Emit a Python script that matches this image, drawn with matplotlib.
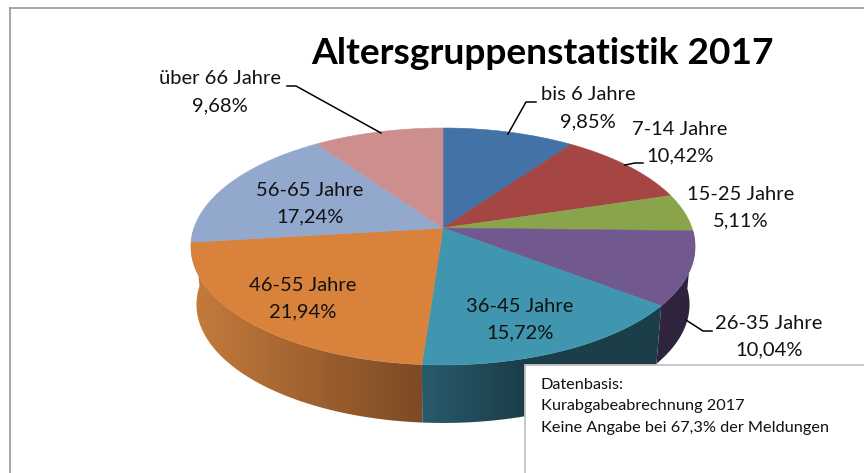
"""Altersgruppenstatistik 2017: 3D-looking pie built from the share values."""
import matplotlib

matplotlib.use("Agg")
import matplotlib.pyplot as plt
import numpy as np
from matplotlib.patches import Polygon, Rectangle

groups = ["bis 6 Jahre", "7-14 Jahre", "15-25 Jahre", "26-35 Jahre",
          "36-45 Jahre", "46-55 Jahre", "56-65 Jahre", "über 66 Jahre"]
shares = [9.85, 10.42, 5.11, 10.04, 15.72, 21.94, 17.24, 9.68]
share_labels = ["9,85%", "10,42%", "5,11%", "10,04%", "15,72%", "21,94%", "17,24%", "9,68%"]
top_colors = ["#4272A6", "#A64644", "#8AA44C", "#71588F", "#4096AF", "#D9823B", "#92A8CD", "#CC8F8D"]
# left shade, right shade, how fast the shade ramps; only slices with a visible rim
rim_colors = {
    3: ("#30243E", "#2E233C", 1.0),
    4: ("#285A6B", "#1B3E49", 2.4),
    5: ("#C67B3C", "#7C4A24", 1.0),
}
label_pos = [(588, 95), (680, 129), (741, 194), (769, 323),
             (520, 306), (303, 285), (310, 190), (220, 79)]
leaders = [[(508, 134), (526, 102), (536, 102)],
           [(625, 165), (635, 163), (643, 163)],
           None,
           [(686, 320), (703, 331), (712, 331)],
           None, None, None,
           [(381, 133), (296, 86), (287, 86)]]
note_lines = ["Datenbasis:", "Kurabgabeabrechnung 2017", "Keine Angabe bei 67,3% der Meldungen"]

CX, CY = 443, 228
RX, RY, PERSP = 249, 115.6, 0.156
DEPTH, BOTTOM_SCALE = 58, 0.978

plt.rcParams["font.family"] = ["Lato", "DejaVu Sans"]


def project(theta, scale=1.0, drop=0.0):
    # clockwise from 12 o'clock, far side shrunk for the perspective
    u, v = np.sin(theta), np.cos(theta)
    w = 1 + PERSP * v
    return np.column_stack([CX + scale * RX * u / w, CY + drop - RY * v / w])


def hex_rgb(c):
    return np.array(matplotlib.colors.to_rgb(c))


fig = plt.figure(figsize=(8.64, 4.73), dpi=100)
ax = fig.add_axes([0, 0, 1, 1])
ax.set_xlim(0, 864)
ax.set_ylim(473, 0)
ax.axis("off")

edges = np.concatenate([[0], np.cumsum(shares)]) / sum(shares) * 2 * np.pi

# rim first, top faces go over it
for i, (left_c, right_c, ramp) in rim_colors.items():
    lo = max(edges[i], np.pi / 2)
    # the orange rim takes the few degrees left up to the silhouette
    hi = 3 * np.pi / 2 if i == 5 else edges[i + 1]
    th = np.linspace(lo, hi, 80)
    top = project(th)
    bottom = project(th, BOTTOM_SCALE, DEPTH)
    poly = Polygon(np.vstack([top, bottom[::-1]]), closed=True, fc="none", ec="none")
    ax.add_patch(poly)
    x0, x1 = min(top[:, 0].min(), bottom[:, 0].min()), max(top[:, 0].max(), bottom[:, 0].max())
    y0, y1 = min(top[:, 1].min(), bottom[:, 1].min()), max(top[:, 1].max(), bottom[:, 1].max())
    t = np.clip(np.linspace(0, 1, 128) * ramp, 0, 1)[None, :, None]
    grad = hex_rgb(left_c)[None, None, :] * (1 - t) + hex_rgb(right_c)[None, None, :] * t
    im = ax.imshow(grad, extent=(x0, x1, y1, y0), aspect="auto", zorder=1)
    im.set_clip_path(poly)

for i, color in enumerate(top_colors):
    th = np.linspace(edges[i], edges[i + 1], 80)
    pts = np.vstack([[CX, CY], project(th)])
    ax.add_patch(Polygon(pts, closed=True, fc=color, ec=color, lw=0.4, zorder=2))

ax.set_xlim(0, 864)
ax.set_ylim(473, 0)

for path in leaders:
    if path:
        xs, ys = zip(*path)
        ax.plot(xs, ys, color="black", lw=1.1, zorder=3, solid_joinstyle="miter")

for name, pct, (x, y) in zip(groups, share_labels, label_pos):
    ax.text(x, y, name, ha="center", va="center", fontsize=14.5, color="#111111", zorder=4)
    ax.text(x, y + 27, pct, ha="center", va="center", fontsize=14.5, color="#111111", zorder=4)

ax.text(542.5, 53, "Altersgruppenstatistik 2017", ha="center", va="center",
        fontsize=26.7, fontweight="bold", color="black", zorder=4)

# chart frame runs off the right and bottom of the crop
ax.plot([10, 10], [473, 8], color="#969696", lw=1.2, zorder=0)
ax.plot([10, 864], [8, 8], color="#969696", lw=1.2, zorder=0)

ax.add_patch(Rectangle((525, 365), 345, 115, fc="white", ec="#C4C4C4", lw=1.3, zorder=5))
for line, y in zip(note_lines, [385, 406, 428]):
    ax.text(541, y, line, ha="left", va="center", fontsize=11.7, color="#111111", zorder=6)

fig.savefig("out.png", dpi=100)
plt.close(fig)
